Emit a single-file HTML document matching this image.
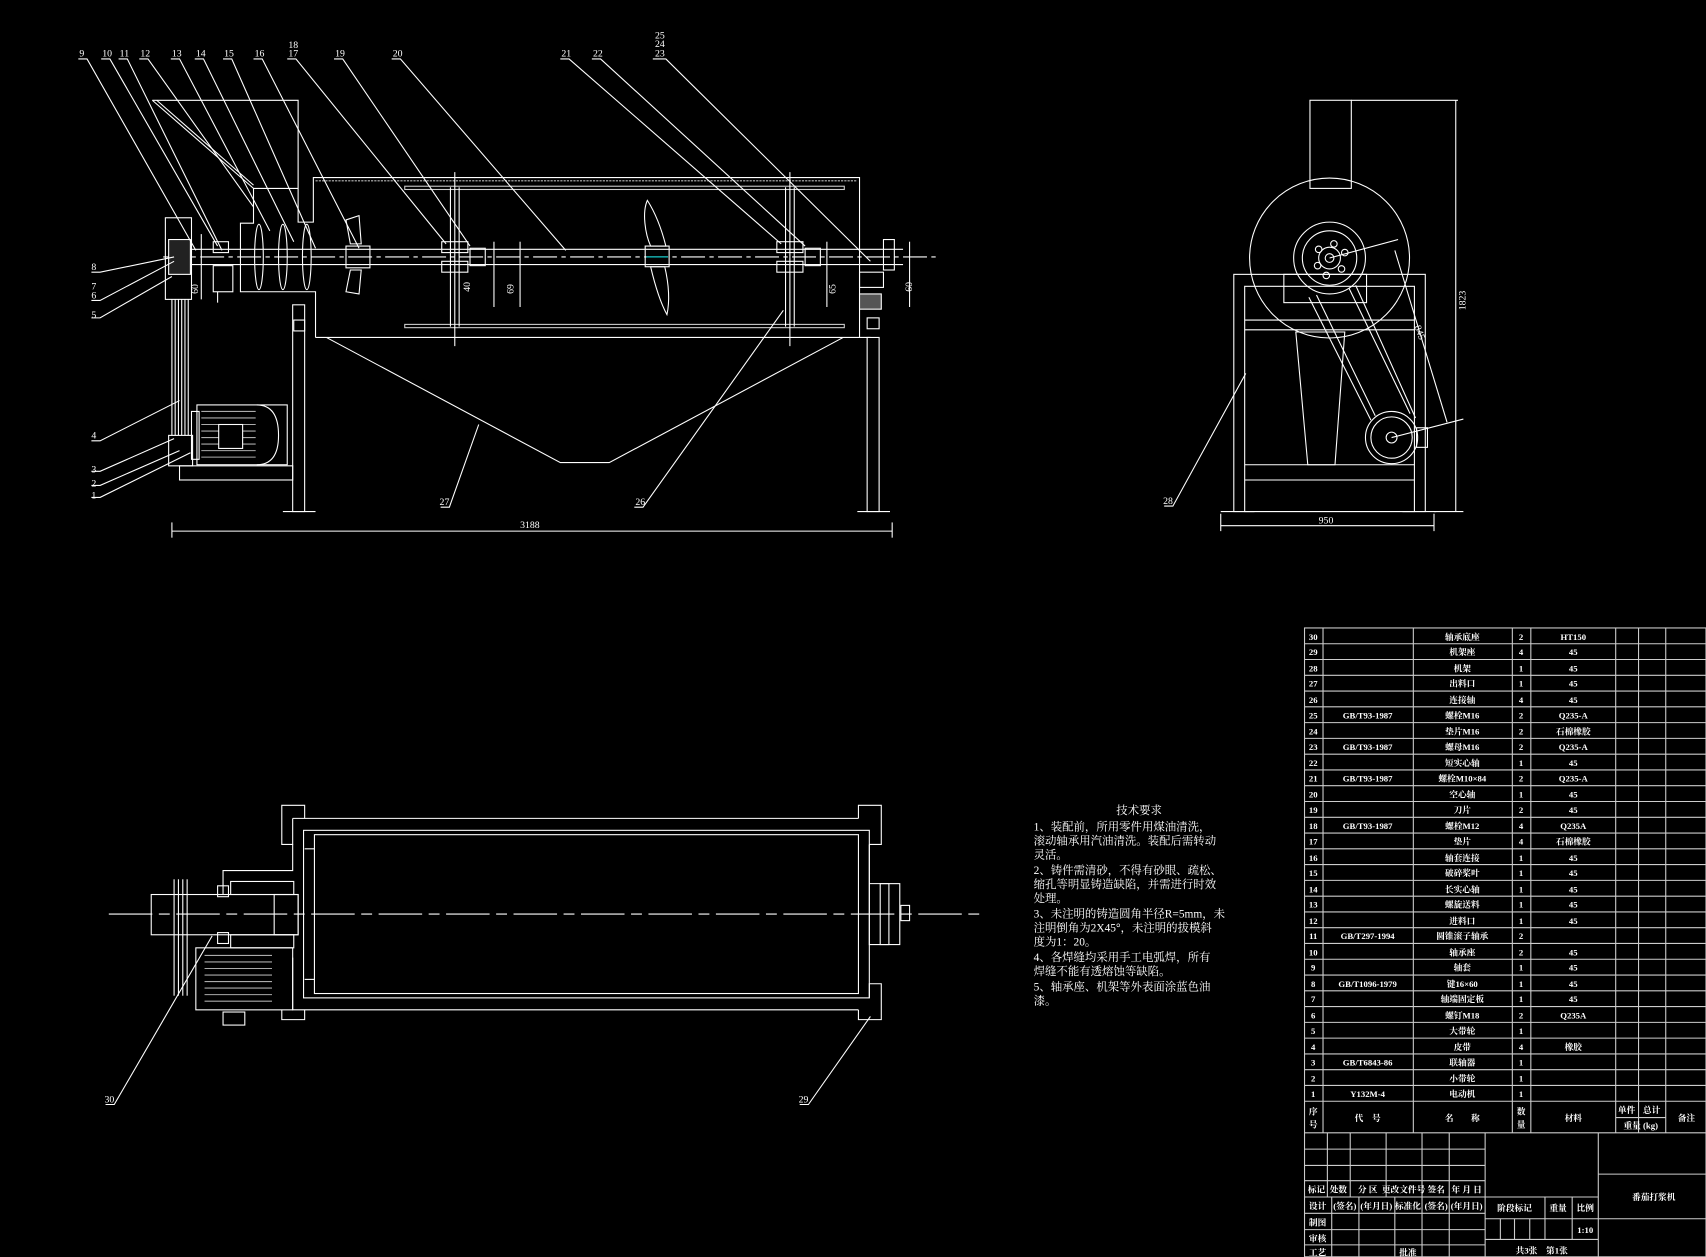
<!DOCTYPE html>
<html><head><meta charset="utf-8">
<style>
html,body{margin:0;padding:0;background:#000;}
svg{display:block;}
text{fill:#fff;font-family:"Liberation Serif","Noto Serif CJK SC",serif;}
.t{font-size:8px;font-weight:bold;font-family:"Liberation Sans","Noto Sans CJK SC",sans-serif;}
.n{font-size:9px;}
.tx{font-size:10.5px;font-family:"Liberation Serif","Noto Serif CJK SC",serif;}
</style></head>
<body>
<svg width="1706" height="1257" viewBox="0 0 1568 1155" xmlns="http://www.w3.org/2000/svg">
<rect width="1568" height="1155" fill="#000"/>
<g stroke="#fff" stroke-width="1" fill="none">
<!-- ===== FRONT VIEW ===== -->
<!-- hopper -->
<polyline points="140,92 274,92 274,204 288,204 288,163 790,163 790,310"/>
<line x1="140" y1="92" x2="233" y2="173"/>
<line x1="144" y1="92" x2="233" y2="170"/>
<polyline points="233,173 274,173"/>
<polyline points="233,173 233,205 221,205 221,268 290,268 290,310"/>
<line x1="290" y1="310" x2="800" y2="310"/>
<line x1="290" y1="166" x2="788" y2="166" stroke="#bbb" stroke-dasharray="2,1"/>
<!-- screens -->
<rect x="372" y="171" width="404" height="3" stroke="#ccc"/>
<rect x="372" y="298" width="404" height="3" stroke="#ccc"/>
<!-- V hopper -->
<polyline points="300,310 515,425 560,425 775,310"/>
<!-- legs -->
<rect x="269" y="280" width="11" height="190"/>
<rect x="270" y="294" width="10" height="10"/>
<rect x="797" y="310" width="11" height="160"/>
<rect x="797" y="292" width="11" height="10"/>
<line x1="260" y1="470" x2="290" y2="470"/>
<line x1="788" y1="470" x2="818" y2="470"/>
<!-- shaft -->
<line x1="170" y1="229" x2="830" y2="229"/>
<line x1="170" y1="243" x2="830" y2="243"/>
<line x1="150" y1="236" x2="860" y2="236" stroke-dasharray="22,4,4,4"/>
<!-- pulley -->
<rect x="152" y="200" width="24" height="75"/>
<rect x="155" y="220" width="20" height="32" fill="#222"/>
<line x1="158" y1="275" x2="158" y2="400"/><line x1="161" y1="275" x2="161" y2="400"/>
<line x1="164" y1="275" x2="164" y2="400"/><line x1="167" y1="275" x2="167" y2="400"/>
<line x1="170" y1="275" x2="170" y2="400"/><line x1="173" y1="275" x2="173" y2="400"/>
<rect x="155" y="400" width="22" height="28"/>
<!-- bearing left -->
<rect x="196" y="222" width="14" height="10"/>
<rect x="196" y="244" width="18" height="24"/>
<line x1="185" y1="215" x2="185" y2="275"/>
<line x1="200" y1="268" x2="200" y2="278"/>
<!-- screw blades -->
<ellipse cx="238" cy="236" rx="4" ry="30"/>
<ellipse cx="260" cy="236" rx="4" ry="30"/>
<ellipse cx="282" cy="236" rx="4" ry="30"/>
<!-- paddle -->
<rect x="318" y="226" width="22" height="20"/>
<polygon points="318,202 330,198 332,224 322,224"/>
<polygon points="318,268 330,270 332,248 322,248"/>
<!-- discs -->
<line x1="418" y1="158" x2="418" y2="318"/><line x1="414" y1="172" x2="414" y2="300"/><line x1="422" y1="172" x2="422" y2="300"/>
<rect x="406" y="222" width="24" height="10"/><rect x="406" y="240" width="24" height="10"/>
<rect x="432" y="228" width="14" height="16"/>
<line x1="726" y1="158" x2="726" y2="318"/><line x1="722" y1="172" x2="722" y2="300"/><line x1="730" y1="172" x2="730" y2="300"/>
<rect x="714" y="222" width="24" height="10"/><rect x="714" y="240" width="24" height="10"/>
<rect x="740" y="228" width="14" height="16"/>
<!-- big blade -->
<rect x="593" y="226" width="22" height="19"/>
<path d="M595,184 C590,195 593,215 598,226 L612,226 C608,210 602,195 595,184Z"/>
<path d="M613,289 C616,275 614,258 611,245 L598,245 C602,262 607,278 613,289Z"/>
<line x1="594" y1="236" x2="614" y2="236" stroke="#0cc"/>
<!-- right bearing -->
<rect x="812" y="220" width="10" height="28"/>
<rect x="790" y="250" width="22" height="14"/>
<rect x="790" y="270" width="20" height="14" fill="#555"/>
<!-- motor -->
<rect x="181" y="372" width="83" height="55"/>
<path d="M236,372 q20,0 20,28 q0,27 -20,27"/>
<rect x="176" y="378" width="7" height="44"/>
<g stroke="#aaa"><line x1="185" y1="378" x2="235" y2="378"/><line x1="185" y1="384" x2="235" y2="384"/><line x1="185" y1="390" x2="235" y2="390"/><line x1="185" y1="396" x2="235" y2="396"/><line x1="185" y1="402" x2="235" y2="402"/><line x1="185" y1="408" x2="235" y2="408"/><line x1="185" y1="414" x2="235" y2="414"/><line x1="185" y1="420" x2="235" y2="420"/></g>
<rect x="201" y="390" width="22" height="22" fill="#000"/>
<rect x="165" y="428" width="104" height="13"/>
<!-- dims -->
<line x1="158" y1="480" x2="158" y2="494"/><line x1="820" y1="480" x2="820" y2="494"/>
<line x1="158" y1="488" x2="820" y2="488"/>
<line x1="454" y1="222" x2="454" y2="282"/><line x1="478" y1="222" x2="478" y2="282"/>
<line x1="760" y1="222" x2="760" y2="282"/><line x1="836" y1="222" x2="836" y2="282"/>
<!-- leaders top -->
<path d="M72,54 H80 L180,230"/>
<path d="M93,54 H101 L200,226"/>
<path d="M109,54 H117 L204,230"/>
<path d="M128,54 H136 L233,190"/>
<path d="M157,54 H165 L248,212"/>
<path d="M179,54 H187 L270,222"/>
<path d="M205,54 H213 L290,228"/>
<path d="M233,54 H241 L330,228"/>
<path d="M264,54 H272 L410,224"/>
<path d="M307,54 H315 L432,226"/>
<path d="M360,54 H368 L520,230"/>
<path d="M515,54 H523 L718,224"/>
<path d="M544,54 H552 L740,226"/>
<path d="M600,54 H612 L800,240"/>
<!-- leaders left -->
<path d="M84,250 H92 L160,236"/>
<path d="M84,276 H92 L160,240"/>
<path d="M84,292 H92 L158,254"/>
<path d="M84,405 H92 L165,368"/>
<path d="M84,433 H92 L160,403"/>
<path d="M84,446 H92 L165,414"/>
<path d="M84,457 H92 L175,416"/>
<path d="M405,466 H413 L440,390"/>
<path d="M583,466 H591 L720,285"/>

<!-- ===== SIDE VIEW ===== -->
<rect x="1204" y="92" width="38" height="81"/>
<line x1="1242" y1="92" x2="1340" y2="92"/>
<circle cx="1222" cy="237" r="73.5"/>
<circle cx="1222" cy="237" r="33"/>
<circle cx="1222" cy="237" r="25"/>
<circle cx="1222" cy="237" r="10"/><circle cx="1222" cy="237" r="4"/>
<circle cx="1226" cy="224" r="3"/><circle cx="1212" cy="229" r="3"/><circle cx="1211" cy="244" r="3"/>
<circle cx="1219" cy="253" r="3"/><circle cx="1233" cy="247" r="3"/><circle cx="1236" cy="232" r="3"/>
<rect x="1134" y="252" width="176" height="218"/>
<rect x="1144" y="263" width="156" height="207"/>
<line x1="1144" y1="294" x2="1300" y2="294"/><line x1="1144" y1="303" x2="1300" y2="303"/>
<line x1="1144" y1="427" x2="1300" y2="427"/><line x1="1144" y1="441" x2="1300" y2="441"/>
<rect x="1180" y="252" width="76" height="26"/>
<polygon points="1191,305 1236,305 1227,427 1202,427"/>
<line x1="1122" y1="470" x2="1153" y2="470"/><line x1="1289" y1="470" x2="1320" y2="470"/>
<circle cx="1279" cy="402" r="24"/><circle cx="1279" cy="402" r="19"/><circle cx="1279" cy="402" r="5"/>
<rect x="1302" y="393" width="10" height="18"/>
<line x1="1203" y1="273" x2="1260" y2="386"/><line x1="1210" y1="271" x2="1264" y2="382"/>
<line x1="1240" y1="265" x2="1296" y2="380"/><line x1="1246" y1="262" x2="1301" y2="384"/>
<line x1="1222" y1="237" x2="1285" y2="220"/><line x1="1279" y1="402" x2="1345" y2="385"/>
<line x1="1282" y1="230" x2="1330" y2="388"/>
<line x1="1338" y1="92" x2="1338" y2="470"/><line x1="1318" y1="470" x2="1345" y2="470"/>
<line x1="1122" y1="472" x2="1122" y2="488"/><line x1="1318" y1="472" x2="1318" y2="488"/>
<line x1="1122" y1="483" x2="1318" y2="483"/>
<path d="M1070,465 H1078 L1145,343"/>

<!-- ===== TOP VIEW ===== -->
<line x1="100" y1="840" x2="905" y2="840" stroke-dasharray="40,6,10,6"/>
<polyline points="269,752 280,752 280,740 259,740 259,776 269,776 269,752"/>
<line x1="280" y1="752" x2="789" y2="752"/>
<polyline points="789,752 789,740 810,740 810,776 799,776"/>
<rect x="279" y="763" width="520" height="154"/>
<rect x="289" y="767" width="500" height="146"/>
<polyline points="269,776 269,800 205,800 205,822"/>
<polyline points="269,880 269,928 789,928"/>
<polyline points="259,928 259,937 280,937 280,928"/>
<polyline points="789,928 789,937 810,937 810,904 799,904 799,917"/>
<polyline points="799,776 799,868 817,868 817,812 799,812"/>
<rect x="809" y="812" width="18" height="56"/>
<rect x="828" y="832" width="8" height="14"/>
<rect x="139" y="822" width="135" height="37"/>
<rect x="252" y="822" width="22" height="37"/>
<rect x="212" y="810" width="58" height="12"/><rect x="212" y="859" width="58" height="12"/>
<rect x="200" y="814" width="10" height="10"/><rect x="200" y="857" width="10" height="10"/>
<line x1="160" y1="808" x2="160" y2="915"/><line x1="164" y1="808" x2="164" y2="915"/><line x1="168" y1="808" x2="168" y2="915"/><line x1="172" y1="808" x2="172" y2="915"/>
<rect x="180" y="871" width="89" height="57"/>
<g stroke="#aaa"><line x1="188" y1="878" x2="250" y2="878"/><line x1="188" y1="884" x2="250" y2="884"/><line x1="188" y1="890" x2="250" y2="890"/><line x1="188" y1="896" x2="250" y2="896"/><line x1="188" y1="902" x2="250" y2="902"/><line x1="188" y1="908" x2="250" y2="908"/><line x1="188" y1="914" x2="250" y2="914"/><line x1="188" y1="920" x2="250" y2="920"/></g>
<rect x="205" y="930" width="20" height="12"/>
<line x1="280" y1="780" x2="289" y2="780"/><line x1="280" y1="900" x2="289" y2="900"/>
<path d="M97,1015 H105 L195,860"/>
<path d="M735,1015 H743 L800,934"/>

<!-- ===== BOM TABLE ===== -->
<g stroke="#ccc">
<rect x="1199" y="577" width="369" height="578"/>
<line x1="1216" y1="577" x2="1216" y2="1041"/>
<line x1="1299" y1="577" x2="1299" y2="1041"/>
<line x1="1390" y1="577" x2="1390" y2="1041"/>
<line x1="1407" y1="577" x2="1407" y2="1041"/>
<line x1="1485" y1="577" x2="1485" y2="1041"/>
<line x1="1506" y1="577" x2="1506" y2="1041"/>
<line x1="1531" y1="577" x2="1531" y2="1041"/>
<line x1="1485" y1="1027" x2="1531" y2="1027"/>
<path d="M1199,591.5H1568M1199,606H1568M1199,620.5H1568M1199,635H1568M1199,649.5H1568M1199,664H1568M1199,678.5H1568M1199,693H1568M1199,707.5H1568M1199,722H1568M1199,736.5H1568M1199,751H1568M1199,765.5H1568M1199,780H1568M1199,794.5H1568M1199,809H1568M1199,823.5H1568M1199,838H1568M1199,852.5H1568M1199,867H1568M1199,881.5H1568M1199,896H1568M1199,910.5H1568M1199,925H1568M1199,939.5H1568M1199,954H1568M1199,968.5H1568M1199,983H1568M1199,997.5H1568M1199,1012H1568"/>
<line x1="1199" y1="1041" x2="1568" y2="1041"/>
<!-- title block -->
<path d="M1199,1056H1365M1199,1071H1365M1199,1085H1365M1199,1100H1365M1199,1115H1365M1199,1130H1365M1199,1144H1365"/>
<path d="M1220,1041V1100M1241,1041V1100M1274,1041V1100M1307,1041V1100M1332,1041V1100"/>
<path d="M1224,1100V1155M1249,1100V1155M1282,1100V1155M1307,1100V1155M1332,1100V1155"/>
<line x1="1365" y1="1041" x2="1365" y2="1155"/>
<line x1="1469" y1="1041" x2="1469" y2="1155"/>
<path d="M1365,1100H1469M1365,1120H1469M1365,1139H1469"/>
<path d="M1420,1100V1139M1445,1100V1139M1379,1120V1139M1392,1120V1139M1406,1120V1139"/>
<path d="M1469,1079H1568M1469,1120H1568"/>
</g>
</g>

<!-- labels front -->
<g class="n">
<text x="73" y="52">9</text><text x="94" y="52">10</text><text x="110" y="52">11</text><text x="129" y="52">12</text>
<text x="158" y="52">13</text><text x="180" y="52">14</text><text x="206" y="52">15</text><text x="234" y="52">16</text>
<text x="265" y="44">18</text><text x="265" y="52">17</text><text x="308" y="52">19</text><text x="361" y="52">20</text>
<text x="516" y="52">21</text><text x="545" y="52">22</text>
<text x="602" y="35">25</text><text x="602" y="43">24</text><text x="602" y="52">23</text>
<text x="84" y="248">8</text><text x="84" y="266">7</text><text x="84" y="274">6</text><text x="84" y="292">5</text>
<text x="84" y="403">4</text><text x="84" y="434">3</text><text x="84" y="447">2</text><text x="84" y="458">1</text>
<text x="404" y="464">27</text><text x="584" y="464">26</text>
<text x="478" y="485">3188</text>
<text x="1069" y="463">28</text><text x="1212" y="481">950</text>
<text x="96" y="1013">30</text><text x="734" y="1013">29</text>
<text transform="translate(432,268) rotate(-90)">40</text>
<text transform="translate(472,270) rotate(-90)">69</text>
<text transform="translate(768,270) rotate(-90)">65</text>
<text transform="translate(838,268) rotate(-90)">60</text>
<text transform="translate(182,270) rotate(-90)">60</text>
<text transform="translate(1347,285) rotate(-90)">1823</text>
<text transform="translate(1300,300) rotate(70)">845</text>
</g>

<!-- tech requirements -->
<g class="tx">
<text x="1026" y="748">技术要求</text>
<text x="950" y="763">1、装配前，所用零件用煤油清洗，</text>
<text x="950" y="776">滚动轴承用汽油清洗。装配后需转动</text>
<text x="950" y="789">灵活。</text>
<text x="950" y="803">2、铸件需清砂，不得有砂眼、疏松、</text>
<text x="950" y="816">缩孔等明显铸造缺陷，并需进行时效</text>
<text x="950" y="829">处理。</text>
<text x="950" y="843">3、未注明的铸造圆角半径R=5mm，未</text>
<text x="950" y="856">注明倒角为2X45°，未注明的拔模斜</text>
<text x="950" y="869">度为1：20。</text>
<text x="950" y="883">4、各焊缝均采用手工电弧焊，所有</text>
<text x="950" y="896">焊缝不能有透熔蚀等缺陷。</text>
<text x="950" y="910">5、轴承座、机架等外表面涂蓝色油</text>
<text x="950" y="923">漆。</text>
</g>

<!-- BOM text -->
<g class="t" text-anchor="middle">
<text x="1207" y="588">30</text><text x="1344" y="588">轴承底座</text><text x="1398" y="588">2</text><text x="1446" y="588">HT150</text>
<text x="1207" y="602">29</text><text x="1344" y="602">机架座</text><text x="1398" y="602">4</text><text x="1446" y="602">45</text>
<text x="1207" y="617">28</text><text x="1344" y="617">机架</text><text x="1398" y="617">1</text><text x="1446" y="617">45</text>
<text x="1207" y="631">27</text><text x="1344" y="631">出料口</text><text x="1398" y="631">1</text><text x="1446" y="631">45</text>
<text x="1207" y="646">26</text><text x="1344" y="646">连接轴</text><text x="1398" y="646">4</text><text x="1446" y="646">45</text>
<text x="1207" y="660">25</text><text x="1257" y="660">GB/T93-1987</text><text x="1344" y="660">螺栓M16</text><text x="1398" y="660">2</text><text x="1446" y="660">Q235-A</text>
<text x="1207" y="675">24</text><text x="1344" y="675">垫片M16</text><text x="1398" y="675">2</text><text x="1446" y="675">石棉橡胶</text>
<text x="1207" y="689">23</text><text x="1257" y="689">GB/T93-1987</text><text x="1344" y="689">螺母M16</text><text x="1398" y="689">2</text><text x="1446" y="689">Q235-A</text>
<text x="1207" y="704">22</text><text x="1344" y="704">短实心轴</text><text x="1398" y="704">1</text><text x="1446" y="704">45</text>
<text x="1207" y="718">21</text><text x="1257" y="718">GB/T93-1987</text><text x="1344" y="718">螺栓M10×84</text><text x="1398" y="718">2</text><text x="1446" y="718">Q235-A</text>
<text x="1207" y="733">20</text><text x="1344" y="733">空心轴</text><text x="1398" y="733">1</text><text x="1446" y="733">45</text>
<text x="1207" y="747">19</text><text x="1344" y="747">刀片</text><text x="1398" y="747">2</text><text x="1446" y="747">45</text>
<text x="1207" y="762">18</text><text x="1257" y="762">GB/T93-1987</text><text x="1344" y="762">螺栓M12</text><text x="1398" y="762">4</text><text x="1446" y="762">Q235A</text>
<text x="1207" y="776">17</text><text x="1344" y="776">垫片</text><text x="1398" y="776">4</text><text x="1446" y="776">石棉橡胶</text>
<text x="1207" y="791">16</text><text x="1344" y="791">轴套连接</text><text x="1398" y="791">1</text><text x="1446" y="791">45</text>
<text x="1207" y="805">15</text><text x="1344" y="805">破碎桨叶</text><text x="1398" y="805">1</text><text x="1446" y="805">45</text>
<text x="1207" y="820">14</text><text x="1344" y="820">长实心轴</text><text x="1398" y="820">1</text><text x="1446" y="820">45</text>
<text x="1207" y="834">13</text><text x="1344" y="834">螺旋送料</text><text x="1398" y="834">1</text><text x="1446" y="834">45</text>
<text x="1207" y="849">12</text><text x="1344" y="849">进料口</text><text x="1398" y="849">1</text><text x="1446" y="849">45</text>
<text x="1207" y="863">11</text><text x="1257" y="863">GB/T297-1994</text><text x="1344" y="863">圆锥滚子轴承</text><text x="1398" y="863">2</text>
<text x="1207" y="878">10</text><text x="1344" y="878">轴承座</text><text x="1398" y="878">2</text><text x="1446" y="878">45</text>
<text x="1207" y="892">9</text><text x="1344" y="892">轴套</text><text x="1398" y="892">1</text><text x="1446" y="892">45</text>
<text x="1207" y="907">8</text><text x="1257" y="907">GB/T1096-1979</text><text x="1344" y="907">键16×60</text><text x="1398" y="907">1</text><text x="1446" y="907">45</text>
<text x="1207" y="921">7</text><text x="1344" y="921">轴端固定板</text><text x="1398" y="921">1</text><text x="1446" y="921">45</text>
<text x="1207" y="936">6</text><text x="1344" y="936">螺钉M18</text><text x="1398" y="936">2</text><text x="1446" y="936">Q235A</text>
<text x="1207" y="950">5</text><text x="1344" y="950">大带轮</text><text x="1398" y="950">1</text>
<text x="1207" y="965">4</text><text x="1344" y="965">皮带</text><text x="1398" y="965">4</text><text x="1446" y="965">橡胶</text>
<text x="1207" y="979">3</text><text x="1257" y="979">GB/T6843-86</text><text x="1344" y="979">联轴器</text><text x="1398" y="979">1</text>
<text x="1207" y="994">2</text><text x="1344" y="994">小带轮</text><text x="1398" y="994">1</text>
<text x="1207" y="1008">1</text><text x="1257" y="1008">Y132M-4</text><text x="1344" y="1008">电动机</text><text x="1398" y="1008">1</text>
<text x="1207" y="1024">序</text><text x="1207" y="1036">号</text>
<text x="1257" y="1030">代　号</text><text x="1344" y="1030">名　　称</text>
<text x="1398" y="1024">数</text><text x="1398" y="1036">量</text>
<text x="1446" y="1030">材料</text>
<text x="1495" y="1023">单件</text><text x="1518" y="1023">总计</text>
<text x="1508" y="1037">重量 (kg)</text><text x="1550" y="1030">备注</text>
<text x="1210" y="1096">标记</text><text x="1230" y="1096">处数</text><text x="1257" y="1096">分 区</text><text x="1290" y="1096">更改文件号</text><text x="1320" y="1096">签名</text><text x="1348" y="1096">年 月 日</text>
<text x="1211" y="1111">设计</text><text x="1236" y="1111">(签名)</text><text x="1265" y="1111">(年月日)</text><text x="1294" y="1111">标准化</text><text x="1320" y="1111">(签名)</text><text x="1348" y="1111">(年月日)</text>
<text x="1211" y="1126">制图</text><text x="1211" y="1141">审核</text><text x="1211" y="1154">工艺</text><text x="1294" y="1154">批准</text>
<text x="1392" y="1113">阶段标记</text><text x="1432" y="1113">重量</text><text x="1457" y="1113">比例</text>
<text x="1457" y="1133">1:10</text>
<text x="1417" y="1152">共3张　第1张</text>
<text x="1520" y="1103">番茄打浆机</text>
</g>
</svg>
</body></html>
